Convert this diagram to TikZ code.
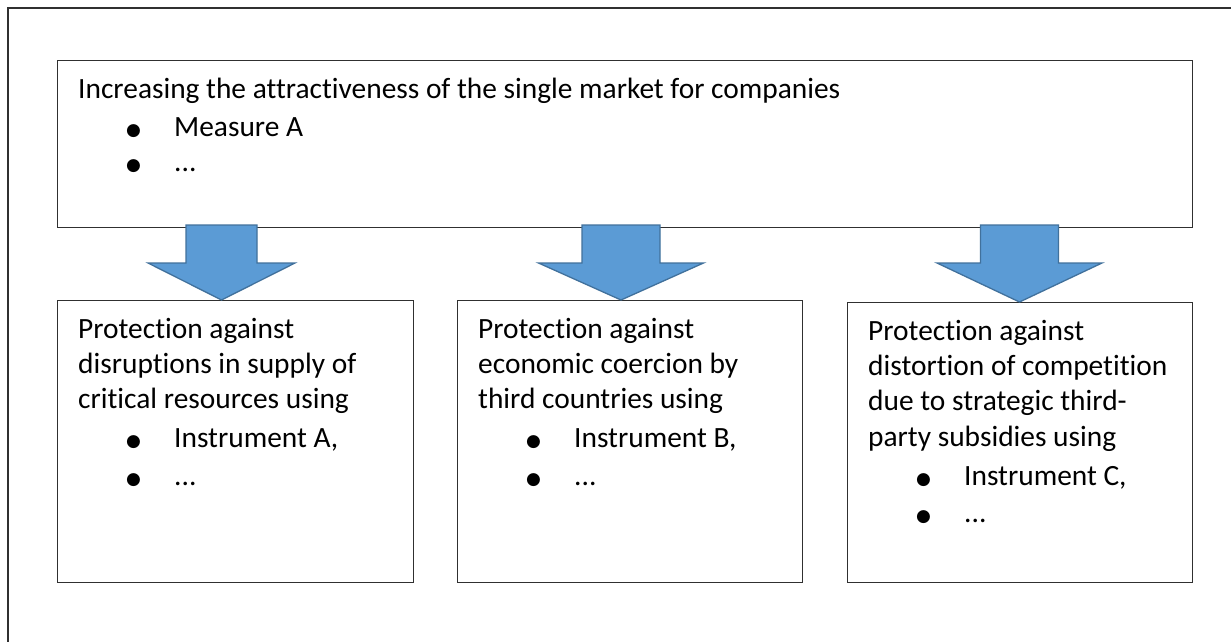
\documentclass[tikz,border=0pt]{standalone}
\usepackage{fontspec}
\setmainfont{Carlito}[Ligatures=NoCommon]
\newfontfamily\dotfont{DejaVu Sans}
\usetikzlibrary{calc}
\definecolor{arrowfill}{HTML}{5B9BD5}
\definecolor{arrowline}{HTML}{41719C}
\definecolor{frameline}{HTML}{303030}
% bulleted line: indent, bullet, text column
\newcommand{\bitem}[1]{\hspace*{48pt}\makebox[48pt][l]{\raisebox{1pt}{\dotfont\fontsize{17}{17}\selectfont ●}}#1}
% block arrow pointing down from coordinate #1
\newcommand{\blockdown}[4]{%
  \draw[blockarrow] ($(#1)+(-#2,0)$) -- ($(#1)+(#2,0)$) -- ($(#1)+(#2,38)$)
    -- ($(#1)+(#3,38)$) -- ($(#1)+(0,#4)$) -- ($(#1)+(-#3,38)$)
    -- ($(#1)+(-#2,38)$) -- cycle;}
\begin{document}
\begin{tikzpicture}[x=1pt,y=-1pt,
  box/.style={draw=frameline, line width=1.3pt, fill=white, rectangle,
    inner sep=0pt, anchor=north west},
  txt/.style={anchor=north west, inner sep=0pt, align=left,
    font=\fontsize{29.4}{35.4}\selectfont},
  blockarrow/.style={fill=arrowfill, draw=arrowline, line width=1.3pt,
    line join=miter}]
\useasboundingbox (0,0) rectangle (1231,642);
\fill[white] (0,0) rectangle (1231,642);
% outer frame
\draw[frameline, line width=1.3pt] (8,642) -- (8,8) -- (1231,8);

% boxes
\node[box, minimum width=1135pt, minimum height=167pt] (top) at (57,60) {};
\node[box, minimum width=356pt, minimum height=282pt] (b1) at (57,300) {};
\node[box, minimum width=345pt, minimum height=282pt] (b2) at (457,300) {};
\node[box, minimum width=345pt, minimum height=280pt] (b3) at (847,302) {};

% arrows
\coordinate (a1) at (221.5,225);
\coordinate (a2) at (621,225);
\coordinate (a3) at (1019.5,225);
\blockdown{a1}{35.5}{73.5}{75}
\blockdown{a2}{39}{82.5}{75}
\blockdown{a3}{39}{82.5}{77}

% texts
\node[txt] (ttop) at ($(top.north west)+(21,13.2)$)
  {\strut Increasing the attractiveness of the single market for companies\\[2.6pt]
   \bitem{Measure A}\\[0pt]
   \bitem{...}};
\node[txt] (tb1) at ($(b1.north west)+(21,13.2)$)
  {\strut Protection against\\
   disruptions in supply of\\
   critical resources using\\[3.6pt]
   \bitem{Instrument A,}\\[2pt]
   \bitem{...}};
\node[txt] (tb2) at ($(b2.north west)+(21,13.2)$)
  {\strut Protection against\\
   economic coercion by\\
   third countries using\\[3.6pt]
   \bitem{Instrument B,}\\[2pt]
   \bitem{...}};
\node[txt] (tb3) at ($(b3.north west)+(21,13.2)$)
  {\strut Protection against\\
   distortion of competition\\
   due to strategic third-\\
   party subsidies using\\[3.6pt]
   \bitem{Instrument C,}\\[2pt]
   \bitem{...}};
\end{tikzpicture}
\end{document}
